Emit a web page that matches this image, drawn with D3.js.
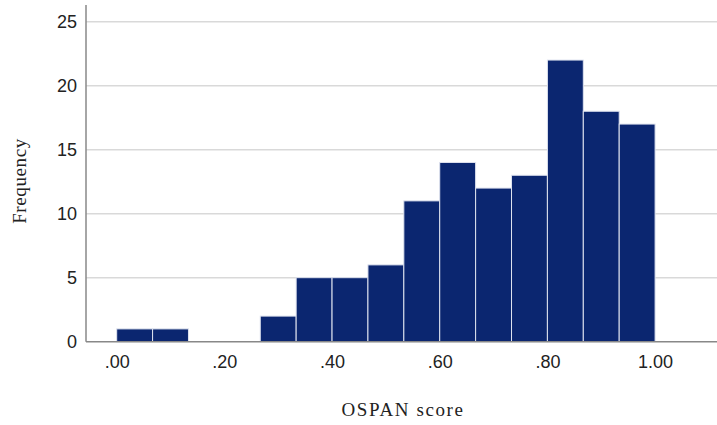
<!DOCTYPE html>
<html><head><meta charset="utf-8">
<script src="https://cdn.jsdelivr.net/npm/d3@7"></script>
<style>body{margin:0;background:#fff;}svg{display:block;}</style>
</head><body>
<svg id="c" width="717" height="425"></svg>
<script>
const binStarts = [0,1,2,3,4,5,6,7,8,9,10,11,12,13,14].map(i => i/15);
const counts = [1,1,0,0,2,5,5,6,11,14,12,13,22,18,17];
const xTicks = [0,0.2,0.4,0.6,0.8,1.0];
const xTickLabels = [".00",".20",".40",".60",".80","1.00"];
const yTicks = [0,5,10,15,20,25];
const binWidth = 1/15;

const svg = d3.select("#c");
const x = d3.scaleLinear().domain([-0.057, 1.115]).range([86, 717]);
const y = d3.scaleLinear().domain([0, 26.3]).range([341.7, 5]);
const serif = "'Liberation Serif', 'DejaVu Serif', serif";
const tickFont = "'Liberation Sans', Arial, sans-serif";

// gridlines
svg.append("g").selectAll("line").data(yTicks.filter(d=>d>0)).join("line")
  .attr("x1", 86).attr("x2", 717)
  .attr("y1", d=>y(d)).attr("y2", d=>y(d))
  .attr("stroke", "#d9d9d9").attr("stroke-width", 1.5);

// bars
svg.append("g").selectAll("rect").data(counts.map((c,i)=>({c, s:binStarts[i]})).filter(d=>d.c>0)).join("rect")
  .attr("x", d=>x(d.s)).attr("width", d=>x(d.s+binWidth)-x(d.s))
  .attr("y", d=>y(d.c)).attr("height", d=>y(0)-y(d.c))
  .attr("fill", "#0b2670").attr("stroke", "#dfe3ef").attr("stroke-width", 1);

// axes
const yAxis = svg.append("g").attr("transform","translate(86,0)")
  .call(d3.axisLeft(y).tickValues(yTicks).tickSize(0).tickPadding(9));
const xAxis = svg.append("g").attr("transform",`translate(0,${y(0)})`)
  .call(d3.axisBottom(x).tickValues(xTicks).tickFormat((d,i)=>xTickLabels[i]).tickSize(0).tickPadding(14));
[yAxis,xAxis].forEach(a=>{
  a.select(".domain").attr("stroke","#888").attr("stroke-width",1.5);
  a.selectAll("text").attr("font-family",tickFont).attr("font-size",18).attr("fill","#222");
});
xAxis.select(".domain").attr("d", `M86,0H717`);
yAxis.select(".domain").attr("d", `M0,5V${y(0)}`);

svg.append("text").attr("x", 403).attr("y", 416).attr("text-anchor","middle")
  .attr("font-family",serif).attr("font-size",19).attr("letter-spacing","1.6px").attr("fill","#222").text("OSPAN score");
svg.append("text").attr("transform","translate(26,181) rotate(-90)").attr("text-anchor","middle")
  .attr("font-family",serif).attr("font-size",19).attr("letter-spacing","0.6px").attr("fill","#222").text("Frequency");
</script>
</body></html>
